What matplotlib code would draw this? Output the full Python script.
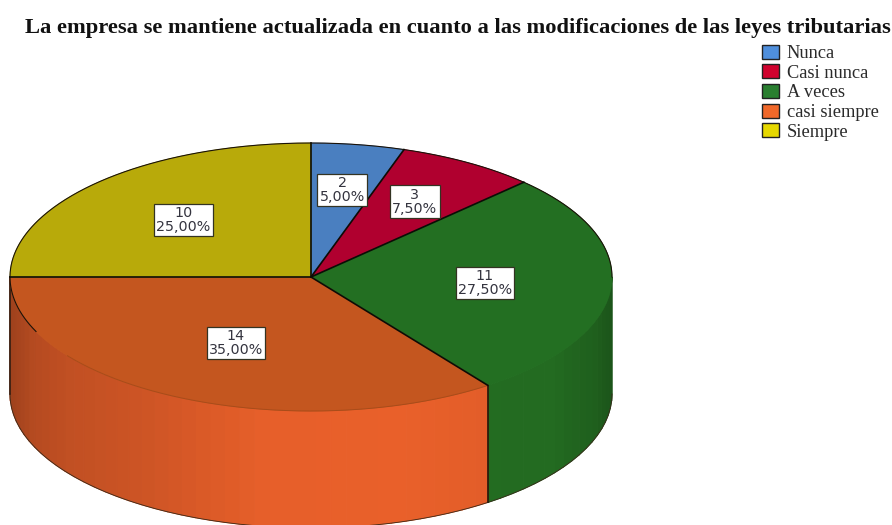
import numpy as np
import matplotlib
matplotlib.use("Agg")
import matplotlib.pyplot as plt
from matplotlib.patches import Patch
from matplotlib.collections import PolyCollection

# data
categories = ["Nunca", "Casi nunca", "A veces", "casi siempre", "Siempre"]
counts = [2, 3, 11, 14, 10]
percent_labels = ["5,00%", "7,50%", "27,50%", "35,00%", "25,00%"]
title = "La empresa se mantiene actualizada en cuanto a las modificaciones de las leyes tributarias"

# style
legend_colors = ["#4f8fdc", "#d0022e", "#2a7f30", "#f0682a", "#e6d800"]
top_colors = ["#4a7fc0", "#b0002f", "#236f22", "#c4561f", "#b8aa0a"]
side_colors = ["#4a7fc0", "#b0002f", "#246f22", "#e9602a", "#b8aa0a"]
label_radius = [0.66, 0.66, 0.58, 0.55, 0.60]
CX, CY, RX, RY, DEPTH = 311, 277, 301, 134, 117

fig = plt.figure(figsize=(8.92, 5.25), dpi=100)
ax = fig.add_axes([0, 0, 1, 1])
ax.set_xlim(0, 892)
ax.set_ylim(525, 0)
ax.axis("off")


def pt(theta, dy=0.0):
    return CX + RX * np.sin(theta), CY - RY * np.cos(theta) + dy


vals = np.array(counts, dtype=float)
edges = np.concatenate([[0], np.cumsum(vals)]) / vals.sum() * 2 * np.pi

# side wall, strip by strip
shade_x = [0.0, 0.04, 0.10, 0.22, 0.42, 0.65, 0.80, 0.90, 0.97, 1.0]
shade_f = [0.68, 0.78, 0.83, 0.88, 0.99, 1.0, 0.97, 0.96, 0.86, 0.76]
for i in range(len(vals)):
    a0 = max(edges[i], np.pi / 2)
    a1 = min(edges[i + 1], 3 * np.pi / 2)
    if a1 <= a0:
        continue
    n = max(int((a1 - a0) / 0.05), 2)
    ts = np.linspace(a0, a1, n + 1)
    polys, cols = [], []
    base = np.array(matplotlib.colors.to_rgb(side_colors[i]))
    for t0, t1 in zip(ts[:-1], ts[1:]):
        x0, y0 = pt(t0)
        x1, y1 = pt(t1)
        polys.append([(x0, y0), (x1, y1), (x1, y1 + DEPTH), (x0, y0 + DEPTH)])
        f = np.interp((np.sin((t0 + t1) / 2) + 1) / 2, shade_x, shade_f)
        cols.append(tuple(base * f))
    ax.add_collection(PolyCollection(polys, facecolors=cols, edgecolors=cols,
                                     linewidths=0.8, zorder=2))

# bottom and vertical outlines
ts = np.linspace(np.pi / 2, 3 * np.pi / 2, 300)
bx, by = pt(ts, DEPTH)
ax.plot(bx, by, color="#3a2a1a", lw=0.6, zorder=3)
lx, ly = pt(3 * np.pi / 2)
ax.plot([lx, lx], [ly, ly + DEPTH], color="#2a1a10", lw=1.1, zorder=3)
for e in edges[1:-1]:
    if np.pi / 2 < e < 3 * np.pi / 2:
        ex, ey = pt(e)
        ax.plot([ex, ex], [ey, ey + DEPTH], color="#101008", lw=1.1, zorder=3)

# top face
for i in range(len(vals)):
    ts = np.linspace(edges[i], edges[i + 1], 200)
    x, y = pt(ts)
    ax.fill(np.r_[CX, x], np.r_[CY, y], facecolor=top_colors[i],
            edgecolor=top_colors[i], lw=0.5, zorder=4)
# subtle seam on the front rim
ts = np.linspace(np.pi * 0.8, np.pi * 1.3, 200)
ax.plot(*pt(ts), color="#a84c1a", lw=0.7, zorder=5)
# rear rim and radii
ts = np.linspace(np.radians(246), np.radians(360 + 90), 400)
ax.plot(*pt(ts), color="#1a1208", lw=0.8, zorder=5)
for e in edges[:-1]:
    ex, ey = pt(e)
    ax.plot([CX, ex], [CY, ey], color="#0c0c06", lw=1.2, zorder=5)

# value labels
mids = (edges[:-1] + edges[1:]) / 2
for m, r, c, p in zip(mids, label_radius, counts, percent_labels):
    lxp = CX + r * RX * np.sin(m)
    lyp = CY - r * RY * np.cos(m)
    ax.text(lxp, lyp, f"{c}\n{p}", ha="center", va="center", fontsize=10.3,
            family="DejaVu Sans", color="#34343f", linespacing=1.0, zorder=7,
            bbox=dict(boxstyle="square,pad=0.15", fc="white", ec="#333322", lw=0.9))

ax.text(458, 27.5, title, ha="center", va="center", fontsize=16.2,
        family="Liberation Serif", weight="bold", color="#111111")

handles = [Patch(facecolor=c, edgecolor="#222222", lw=1.0) for c in legend_colors]
leg = ax.legend(handles, categories, loc="upper left", bbox_to_anchor=(760 / 892, 1 - 43 / 525),
                frameon=False, prop=dict(family="Liberation Serif", size=13.2),
                handlelength=0.95, handleheight=0.8, handletextpad=0.4,
                labelspacing=0.12, borderpad=0.1, borderaxespad=0)
for t in leg.get_texts():
    t.set_color("#2a2a2a")

fig.savefig("out.png", dpi=100)
